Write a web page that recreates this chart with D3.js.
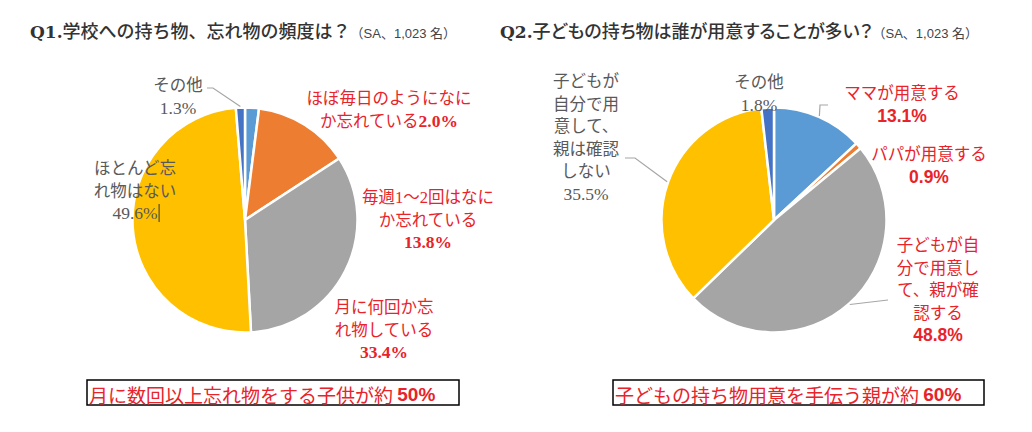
<!DOCTYPE html>
<html lang="ja">
  <head>
    <meta charset="UTF-8" />
    <title>持ち物アンケート</title>
    <script src="https://d3js.org/d3.v7.min.js"></script>
    <style>
      body { margin: 0; background: #fff; }
    </style>
  </head>
  <body></body>
  <script>
    // ---- data ----
    var q1Categories = [
      "ほぼ毎日のようになに\nか忘れている",
      "毎週1～2回はなに\nか忘れている",
      "月に何回か忘\nれ物している",
      "ほとんど忘\nれ物はない",
      "その他"
    ];
    var q1Values = [2.0, 13.8, 33.4, 49.6, 1.3];

    var q2Categories = [
      "ママが用意する",
      "パパが用意する",
      "子どもが自\n分で用意し\nて、親が確\n認する",
      "子どもが\n自分で用\n意して、\n親は確認\nしない",
      "その他"
    ];
    var q2Values = [13.1, 0.9, 48.8, 35.5, 1.8];

    var titles = ["学校への持ち物、忘れ物の頻度は？", "子どもの持ち物は誰が用意することが多い？"];
    var titlePrefix = ["Q1.", "Q2."];
    var sampleNote = "（SA、1,023 名）";
    var summaries = ["月に数回以上忘れ物をする子供が約 ", "子どもの持ち物用意を手伝う親が約 "];
    var summaryPct = ["50%", "60%"];

    // ---- layout ----
    var sliceColors = ["#5B9BD5", "#ED7D31", "#A5A5A5", "#FFC000", "#4472C4"];
    var red = "#e8232a", gray = "#595959";
    var radius = 112.5;
    var lineH = 22.5;
    var serifFont = "'Liberation Serif', 'Noto Sans CJK JP'";
    var sansFont = "'Liberation Sans', 'Noto Sans CJK JP'";

    var charts = [
      {
        cats: q1Categories, vals: q1Values, cx: 245, cy: 220, titleX: 30, palt: false,
        labels: [
          { x: 389, y: 98, color: red, inline: true, serif: true },
          { x: 428, y: 197, color: red, serif: true },
          { x: 384, y: 307, color: red, serif: true },
          { x: 135, y: 168, color: gray, serif: true, cursor: true },
          { x: 178, y: 85, color: gray, serif: true, leader: [[207, 88], [213, 88]] }
        ],
        box: { x: 87, y: 380, w: 372, h: 25 }
      },
      {
        cats: q2Categories, vals: q2Values, cx: 774, cy: 220, titleX: 500, palt: true,
        labels: [
          { x: 902, y: 93, color: red, leader: [[828, 105], [820, 105]] },
          { x: 929, y: 154, color: red },
          { x: 938, y: 245, color: red, leader: [[888, 300]] },
          { x: 586, y: 81, color: gray, serif: true, leader: [[625, 158], [635, 158]] },
          { x: 759, y: 82, color: gray, serif: true }
        ],
        box: { x: 613, y: 380, w: 371, h: 25 }
      }
    ];

    var svg = d3.select("body").append("svg")
      .attr("width", 1032)
      .attr("height", 432);

    var pie = d3.pie().sort(null).value(d => d);
    var arc = d3.arc().innerRadius(0).outerRadius(radius);
    var fmt = d3.format(".1f");

    charts.forEach(function (c, ci) {
      var arcs = pie(c.vals);
      var g = svg.append("g").attr("transform", `translate(${c.cx},${c.cy})`);

      g.selectAll("path")
        .data(arcs)
        .join("path")
        .attr("d", arc)
        .attr("fill", (d, i) => sliceColors[i])
        .attr("stroke", "white")
        .attr("stroke-width", 2.5);

      // leader lines
      c.labels.forEach(function (l, i) {
        if (!l.leader) return;
        var a = (arcs[i].startAngle + arcs[i].endAngle) / 2;
        var end = [c.cx + Math.sin(a) * (radius + 1), c.cy - Math.cos(a) * (radius + 1)];
        svg.append("path")
          .attr("d", d3.line()(l.leader.concat([end])))
          .attr("fill", "none")
          .attr("stroke", "#a6a6a6")
          .attr("stroke-width", 1.2);
      });

      // labels
      c.labels.forEach(function (l, i) {
        var names = c.cats[i].split("\n");
        var pct = fmt(c.vals[i]) + "%";
        var t = svg.append("text")
          .attr("text-anchor", "middle")
          .attr("dominant-baseline", "central")
          .attr("font-size", 16.5)
          .attr("fill", l.color)
          .attr("font-family", l.serif ? serifFont : sansFont);
        var pctStyle = function (s) {
          s.attr("font-size", 17.5);
          if (l.color === red) s.attr("font-weight", "bold");
        };
        names.forEach(function (s, k) {
          var ts = t.append("tspan").attr("x", l.x).attr("y", l.y + k * lineH).text(s);
          if (l.inline && k === names.length - 1) ts.append("tspan").call(pctStyle).text(pct);
        });
        if (!l.inline) {
          var last = t.append("tspan")
            .attr("x", l.x).attr("y", l.y + names.length * lineH)
            .call(pctStyle).text(pct);
          if (l.cursor) {
            var w = last.node().getComputedTextLength();
            var yy = l.y + names.length * lineH;
            svg.append("line")
              .attr("x1", l.x + w / 2 + 1.5).attr("x2", l.x + w / 2 + 1.5)
              .attr("y1", yy - 9).attr("y2", yy + 9)
              .attr("stroke", "#333").attr("stroke-width", 1);
          }
        }
      });

      // title
      var tt = svg.append("text")
        .attr("x", c.titleX).attr("y", 38)
        .attr("fill", "#333")
        .attr("font-family", "'Noto Sans CJK JP'");
      tt.append("tspan")
        .attr("font-family", "'DejaVu Serif'")
        .attr("font-weight", "bold")
        .attr("font-size", 17)
        .text(titlePrefix[ci]);
      tt.append("tspan")
        .attr("font-size", 18)
        .attr("font-weight", 500)
        .style("font-feature-settings", c.palt ? "'palt'" : "normal")
        .text(titles[ci]);
      tt.append("tspan")
        .attr("font-size", 13)
        .attr("fill", "#444")
        .attr("font-family", sansFont)
        .text(sampleNote);

      // summary box
      svg.append("rect")
        .attr("x", c.box.x).attr("y", c.box.y)
        .attr("width", c.box.w).attr("height", c.box.h)
        .attr("fill", "white")
        .attr("stroke", "#000")
        .attr("stroke-width", 1.5);
      var st = svg.append("text")
        .attr("x", c.box.x + 2)
        .attr("y", c.box.y + c.box.h / 2 + 1)
        .attr("dominant-baseline", "central")
        .attr("font-size", 19)
        .attr("fill", red)
        .attr("font-family", "'Noto Sans CJK JP'");
      st.append("tspan").text(summaries[ci]);
      st.append("tspan").attr("font-family", "'Liberation Sans'").attr("font-weight", "bold").text(summaryPct[ci]);
    });
  </script>
</html>
